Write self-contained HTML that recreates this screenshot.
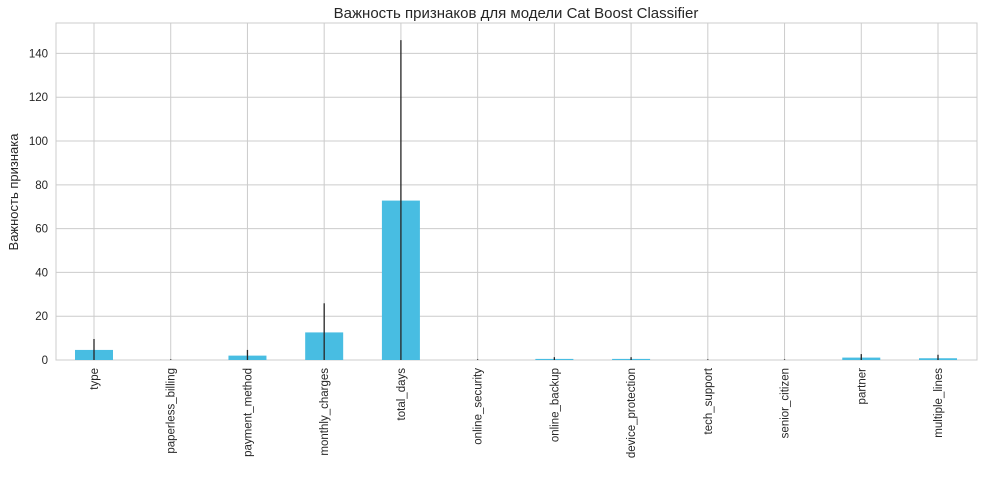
<!DOCTYPE html>
<html><head><meta charset="utf-8"><style>
body{margin:0;background:#fff;}
svg text{font-family:"Liberation Sans","DejaVu Sans",sans-serif;fill:#262626;}
</style></head><body>
<svg id="chart" width="983" height="478">
<text x="516" y="18" text-anchor="middle" font-size="15">Важность признаков для модели Cat Boost Classifier</text>
<text transform="translate(18,192) rotate(-90)" text-anchor="middle" font-size="13">Важность признака</text>
<g id="grid"></g><g id="bars"></g><g id="ticks"></g>
</svg>
<script>
const categories=["type","paperless_billing","payment_method","monthly_charges","total_days","online_security","online_backup","device_protection","tech_support","senior_citizen","partner","multiple_lines"];
const values=[4.6,0,2.0,12.6,72.8,0,0.5,0.5,0,0,1.1,0.8];
const errors=[5.0,0.3,2.6,13.3,73.3,0.3,0.8,0.8,0.3,0.3,1.6,1.6];
const yTicks=[0,20,40,60,80,100,120,140];
const L=56,R=977,T=23,B=360,ymax=153.9;
const y=v=>B-(v/ymax)*(B-T);
const x=i=>94+i*(938-94)/(categories.length-1);
const NS="http://www.w3.org/2000/svg";
function mk(tag,attrs,parent){const e=document.createElementNS(NS,tag);for(const k in attrs)e.setAttribute(k,attrs[k]);parent.appendChild(e);return e;}
const grid=document.getElementById('grid'),bars=document.getElementById('bars'),ticks=document.getElementById('ticks');
mk('rect',{x:L,y:T,width:R-L,height:B-T,fill:'#fff',stroke:'#cccccc','stroke-width':1},grid);
yTicks.forEach(t=>{
 const ln=mk('line',{x1:L,x2:R,y1:y(t),y2:y(t),stroke:'#cccccc','stroke-width':1},grid);
 
 
 const tx=mk('text',{x:L-8,y:y(t)+4,'text-anchor':'end','font-size':11.5},ticks);
 tx.textContent=t;
 
 
});
categories.forEach((c,i)=>{
 const gl=mk('line',{x1:x(i),x2:x(i),y1:T,y2:B,stroke:'#cccccc','stroke-width':1},grid);
 
 
 const b=mk('rect',{x:x(i)-19,y:y(values[i]),width:38,height:B-y(values[i]),fill:'#48bde2'},bars);
 
 
 const e=mk('line',{x1:x(i),x2:x(i),y1:y(values[i]+errors[i]),y2:y(Math.max(0,values[i]-errors[i])),stroke:'#262626','stroke-width':1.3},bars);
 
 
 const tx=mk('text',{transform:`translate(${x(i)+4},368) rotate(-90)`,'text-anchor':'end','font-size':11.5},ticks);
 tx.textContent=c;
 
 
});
</script>
</body></html>
